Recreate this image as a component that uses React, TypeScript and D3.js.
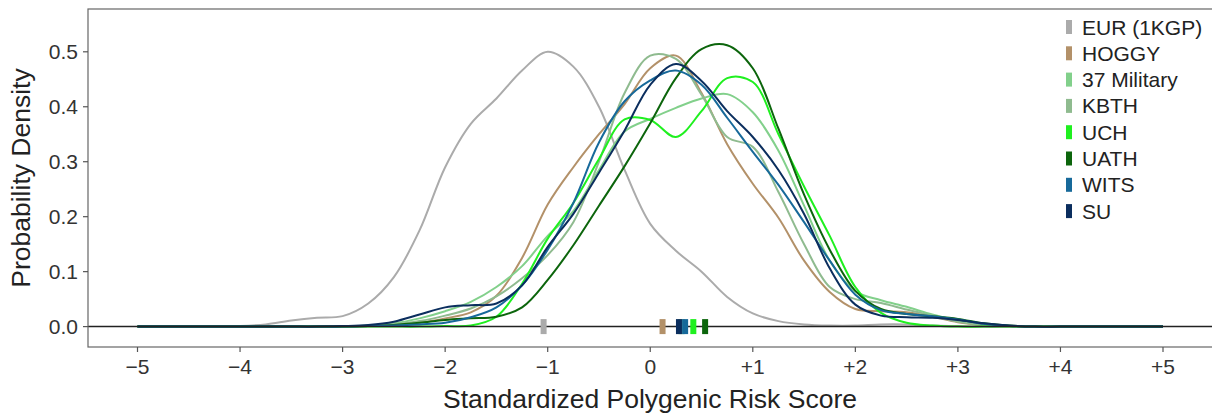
import React from "react";
import * as d3 from "d3";

const xGrid = [-5, -4.75, -4.5, -4.25, -4, -3.75, -3.5, -3.25, -3, -2.75, -2.5, -2.25, -2, -1.75, -1.5, -1.25, -1, -0.75, -0.5, -0.25, 0, 0.25, 0.5, 0.75, 1, 1.25, 1.5, 1.75, 2, 2.25, 2.5, 2.75, 3, 3.25, 3.5, 3.75, 4, 4.25, 4.5, 4.75, 5];

const seriesNames = ["EUR (1KGP)", "HOGGY", "37 Military", "KBTH", "UCH", "UATH", "WITS", "SU"];
const seriesColors = ["#ababab", "#b39169", "#82d08b", "#8fbb8f", "#1ff01f", "#0c650c", "#17699a", "#0b2e5e"];

const eurValues = [0, 0, 0, 0.0005, 0.001, 0.004, 0.011, 0.016, 0.019, 0.042, 0.09, 0.175, 0.29, 0.369, 0.415, 0.466, 0.5, 0.473, 0.4, 0.285, 0.187, 0.138, 0.1, 0.054, 0.024, 0.01, 0.004, 0.002, 0.002, 0.004, 0.004, 0.002, 0.001, 0, 0, 0, 0, 0, 0, 0, 0];
const hoggyValues = [0, 0, 0, 0, 0, 0, 0, 0, 0, 0.001, 0.003, 0.007, 0.015, 0.026, 0.056, 0.125, 0.222, 0.29, 0.35, 0.405, 0.47, 0.493, 0.425, 0.332, 0.26, 0.198, 0.12, 0.063, 0.032, 0.028, 0.026, 0.018, 0.008, 0.003, 0.001, 0, 0, 0, 0, 0, 0];
const militaryValues = [0, 0, 0, 0, 0, 0, 0, 0, 0, 0.002, 0.006, 0.015, 0.028, 0.045, 0.072, 0.11, 0.165, 0.21, 0.285, 0.355, 0.378, 0.398, 0.415, 0.423, 0.39, 0.32, 0.22, 0.12, 0.064, 0.048, 0.036, 0.022, 0.011, 0.004, 0.001, 0, 0, 0, 0, 0, 0];
const kbthValues = [0, 0, 0, 0, 0, 0, 0, 0, 0, 0.001, 0.004, 0.01, 0.02, 0.033, 0.055, 0.088, 0.13, 0.19, 0.3, 0.425, 0.493, 0.487, 0.422, 0.345, 0.327, 0.245, 0.15, 0.072, 0.05, 0.043, 0.031, 0.02, 0.009, 0.003, 0.001, 0, 0, 0, 0, 0, 0];
const uchValues = [0, 0, 0, 0, 0, 0, 0, 0, 0, 0, 0, 0, 0.001, 0.002, 0.018, 0.078, 0.16, 0.225, 0.305, 0.377, 0.376, 0.345, 0.392, 0.452, 0.445, 0.35, 0.255, 0.165, 0.072, 0.025, 0.007, 0.002, 0, 0, 0, 0, 0, 0, 0, 0, 0];
const uathValues = [0, 0, 0, 0, 0, 0, 0, 0, 0, 0.001, 0.003, 0.007, 0.012, 0.015, 0.018, 0.035, 0.085, 0.148, 0.22, 0.292, 0.37, 0.452, 0.505, 0.512, 0.47, 0.36, 0.24, 0.14, 0.065, 0.032, 0.023, 0.019, 0.014, 0.006, 0.002, 0, 0, 0, 0, 0, 0];
const witsValues = [0, 0, 0, 0, 0, 0, 0, 0, 0, 0.001, 0.002, 0.004, 0.007, 0.017, 0.035, 0.075, 0.14, 0.225, 0.335, 0.41, 0.448, 0.466, 0.44, 0.38, 0.318, 0.258, 0.19, 0.12, 0.058, 0.03, 0.023, 0.019, 0.013, 0.005, 0.001, 0, 0, 0, 0, 0, 0];
const suValues = [0, 0, 0, 0, 0, 0, 0, 0, 0.001, 0.003, 0.009, 0.022, 0.035, 0.039, 0.042, 0.075, 0.145, 0.205, 0.28, 0.357, 0.44, 0.478, 0.447, 0.392, 0.345, 0.285, 0.205, 0.106, 0.04, 0.02, 0.017, 0.016, 0.012, 0.006, 0.002, 0, 0, 0, 0, 0, 0];

const seriesValues = [eurValues, hoggyValues, militaryValues, kbthValues, uchValues, uathValues, witsValues, suValues];
const seriesMeans = [-1.04, 0.12, 0.3, 0.31, 0.42, 0.535, 0.34, 0.28];

const xTicks = [-5, -4, -3, -2, -1, 0, 1, 2, 3, 4, 5];
const xTickLabels = ["\u22125", "\u22124", "\u22123", "\u22122", "\u22121", "0", "+1", "+2", "+3", "+4", "+5"];
const yTicks = [0, 0.1, 0.2, 0.3, 0.4, 0.5];
const yTickLabels = ["0.0", "0.1", "0.2", "0.3", "0.4", "0.5"];

const W = 1212;
const H = 415;
const panel = { left: 88, right: 1214, top: 9, bottom: 347 };
const font = "'Liberation Sans', Arial, Helvetica, sans-serif";

export default function App() {
  const x = d3.scaleLinear().domain([-5, 5]).range([137.5, 1163]);
  const y = d3.scaleLinear().domain([0, 0.5]).range([326.6, 51.8]);
  const line = d3
    .line<[number, number]>()
    .x((d) => x(d[0]))
    .y((d) => y(Math.max(0, d[1])))
    .curve(d3.curveCatmullRom.alpha(0.5));

  return (
    <svg
      width={W}
      height={H}
      style={{ position: "absolute", left: 0, top: 0, background: "#fff" }}
      fontFamily={font}
    >
      <rect x={0} y={0} width={W} height={H} fill="#fff" />
      <defs>
        <clipPath id="panelClip">
          <rect x={panel.left} y={panel.top} width={panel.right - panel.left} height={panel.bottom - panel.top} />
        </clipPath>
      </defs>
      <g clipPath="url(#panelClip)">
        {seriesValues.map((vals, i) => (
          <path
            key={seriesNames[i]}
            d={line(xGrid.map((xv, j) => [xv, vals[j]] as [number, number])) || ""}
            fill="none"
            stroke={seriesColors[i]}
            strokeWidth={2}
          />
        ))}
        <line x1={panel.left} x2={panel.right} y1={y(0)} y2={y(0)} stroke="#222" strokeWidth={1.5} />
        {seriesMeans.map((m, i) => (
          <rect
            key={"m" + i}
            x={x(m) - 3}
            y={y(0) - 7.5}
            width={6}
            height={15}
            fill={seriesColors[i]}
          />
        ))}
      </g>
      <rect
        x={panel.left}
        y={panel.top}
        width={panel.right - panel.left}
        height={panel.bottom - panel.top}
        fill="none"
        stroke="#666"
        strokeWidth={1.2}
      />
      {yTicks.map((t, i) => (
        <g key={"y" + i}>
          <line x1={panel.left - 5} x2={panel.left} y1={y(t)} y2={y(t)} stroke="#555" strokeWidth={1.2} />
          <text x={panel.left - 10} y={y(t)} textAnchor="end" dominantBaseline="central" fontSize={21} fill="#333">
            {yTickLabels[i]}
          </text>
        </g>
      ))}
      {xTicks.map((t, i) => (
        <g key={"x" + i}>
          <line x1={x(t)} x2={x(t)} y1={panel.bottom} y2={panel.bottom + 5} stroke="#555" strokeWidth={1.2} />
          <text x={x(t)} y={panel.bottom + 19} textAnchor="middle" dominantBaseline="central" fontSize={21} fill="#333">
            {xTickLabels[i]}
          </text>
        </g>
      ))}
      <text
        x={(panel.left + 1212) / 2}
        y={399}
        textAnchor="middle"
        dominantBaseline="central"
        fontSize={26.5}
        fill="#222"
      >
        Standardized Polygenic Risk Score
      </text>
      <text
        transform={`translate(21,${(panel.top + panel.bottom) / 2}) rotate(-90)`}
        textAnchor="middle"
        dominantBaseline="central"
        fontSize={26.5}
        fill="#222"
      >
        Probability Density
      </text>
      {seriesNames.map((name, i) => {
        const cy = 27 + i * 26.3;
        return (
          <g key={"l" + i}>
            <rect x={1066} y={cy - 7} width={6} height={14} fill={seriesColors[i]} />
            <text x={1082} y={cy} dominantBaseline="central" fontSize={21} fill="#222">
              {name}
            </text>
          </g>
        );
      })}
    </svg>
  );
}
